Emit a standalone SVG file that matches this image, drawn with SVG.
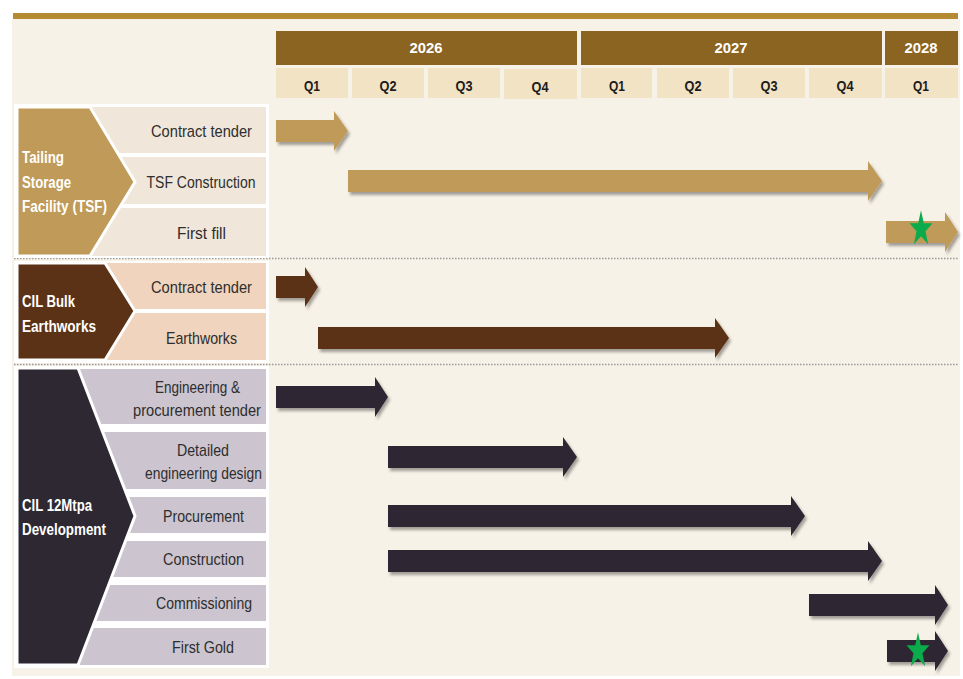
<svg xmlns="http://www.w3.org/2000/svg" width="963" height="679" viewBox="0 0 963 679">
<style>
.lbl{font-family:"Liberation Sans Narrow","Liberation Sans",Arial,sans-serif;font-size:17px;fill:#2e2e2e;text-anchor:middle}
.grp{font-family:"Liberation Sans Narrow","Liberation Sans",Arial,sans-serif;font-size:16px;font-weight:bold;fill:#ffffff}
.yr{font-family:"Liberation Sans Narrow","Liberation Sans",Arial,sans-serif;font-size:15px;font-weight:bold;fill:#ffffff;text-anchor:middle}
.q{font-family:"Liberation Sans Narrow","Liberation Sans",Arial,sans-serif;font-size:15px;font-weight:bold;fill:#1c1c1c;text-anchor:middle}
.yc{fill:#8b6421}
.qc{fill:#f3e3c5}
.dot{stroke:#9a9a9a;stroke-width:1.5;stroke-dasharray:1.5 1.5;fill:none}
.tsf{fill:#bf9a58}
.tsfr{fill:#f0e7da}
.blk{fill:#5b3216}
.blkr{fill:#f0d4bd}
.dev{fill:#2d2832}
.devr{fill:#ccc5cf}
.star{fill:#0aab4a}
</style>
<defs>
<filter id="sh" x="-5%" y="-30%" width="110%" height="170%">
<feDropShadow dx="2" dy="3" stdDeviation="1.5" flood-color="#000" flood-opacity="0.35"/>
</filter>
<path id="star" d="M0,-18.8 L2.8,-5.81 L11.5,-5.81 L4.5,2.22 L7.1,15.21 L0,7.18 L-7.1,15.21 L-4.5,2.22 L-11.5,-5.81 L-2.8,-5.81 Z"/>
</defs>
<rect x="0" y="0" width="963" height="679" fill="#ffffff"/>
<rect x="12" y="19" width="948" height="657" fill="#f7f2e7"/>
<rect x="13" y="13" width="945" height="6" fill="#b48a32"/>

<g id="header">
<g id="y2026"><rect class="yc" x="276" y="31" width="301" height="34"/><text class="yr" x="426" y="53" textLength="33" lengthAdjust="spacingAndGlyphs">2026</text></g>
<g id="y2027"><rect class="yc" x="581" y="31" width="301" height="34"/><text class="yr" x="731" y="53" textLength="33" lengthAdjust="spacingAndGlyphs">2027</text></g>
<g id="y2028"><rect class="yc" x="885" y="31" width="73" height="34"/><text class="yr" x="921" y="53" textLength="33" lengthAdjust="spacingAndGlyphs">2028</text></g>
<g id="q1-2026"><rect class="qc" x="276" y="68" width="72" height="30"/><text class="q" x="312" y="91" textLength="16" lengthAdjust="spacingAndGlyphs">Q1</text></g>
<g id="q2-2026"><rect class="qc" x="352" y="68" width="72" height="30"/><text class="q" x="388" y="91" textLength="17" lengthAdjust="spacingAndGlyphs">Q2</text></g>
<g id="q3-2026"><rect class="qc" x="428" y="68" width="72" height="30"/><text class="q" x="464" y="91" textLength="17" lengthAdjust="spacingAndGlyphs">Q3</text></g>
<g id="q4-2026"><rect class="qc" x="504" y="69" width="73" height="30"/><text class="q" x="540" y="92" textLength="17" lengthAdjust="spacingAndGlyphs">Q4</text></g>
<g id="q1-2027"><rect class="qc" x="581" y="68" width="71" height="30"/><text class="q" x="617" y="91" textLength="16" lengthAdjust="spacingAndGlyphs">Q1</text></g>
<g id="q2-2027"><rect class="qc" x="657" y="68" width="72" height="30"/><text class="q" x="693" y="91" textLength="17" lengthAdjust="spacingAndGlyphs">Q2</text></g>
<g id="q3-2027"><rect class="qc" x="733" y="68" width="72" height="30"/><text class="q" x="769" y="91" textLength="17" lengthAdjust="spacingAndGlyphs">Q3</text></g>
<g id="q4-2027"><rect class="qc" x="809" y="68" width="73" height="30"/><text class="q" x="845" y="91" textLength="17" lengthAdjust="spacingAndGlyphs">Q4</text></g>
<g id="q1-2028"><rect class="qc" x="885" y="68" width="73" height="30"/><text class="q" x="921" y="91" textLength="16" lengthAdjust="spacingAndGlyphs">Q1</text></g>
</g>

<g id="separators">
<line class="dot" x1="14" y1="258.5" x2="958" y2="258.5"/>
<line class="dot" x1="14" y1="364.5" x2="958" y2="364.5"/>
</g>

<g id="tsf-group">
<rect x="14" y="104" width="255" height="154" fill="#ffffff"/>
<g id="tsf-contract-tender"><rect class="tsfr" x="17" y="107" width="249" height="46"/><text class="lbl" x="201.5" y="137" textLength="101" lengthAdjust="spacingAndGlyphs">Contract tender</text></g>
<g id="tsf-construction"><rect class="tsfr" x="17" y="157" width="249" height="47"/><text class="lbl" x="201" y="188" textLength="109" lengthAdjust="spacingAndGlyphs">TSF Construction</text></g>
<g id="tsf-first-fill"><rect class="tsfr" x="17" y="208" width="249" height="48"/><text class="lbl" x="201.5" y="239" textLength="49" lengthAdjust="spacingAndGlyphs">First fill</text></g>
<g id="tsf-head">
<polygon class="tsf" points="17,107 90,107 135,182 90,256 17,256" stroke="#ffffff" stroke-width="3"/>
<text class="grp" x="22" y="163" textLength="42" lengthAdjust="spacingAndGlyphs">Tailing</text>
<text class="grp" x="22" y="188" textLength="49" lengthAdjust="spacingAndGlyphs">Storage</text>
<text class="grp" x="22" y="212" textLength="85" lengthAdjust="spacingAndGlyphs">Facility (TSF)</text>
</g>
</g>

<g id="bulk-group">
<rect x="14" y="261" width="255" height="102" fill="#ffffff"/>
<g id="bulk-contract-tender"><rect class="blkr" x="17" y="263" width="249" height="46"/><text class="lbl" x="201.5" y="293" textLength="101" lengthAdjust="spacingAndGlyphs">Contract tender</text></g>
<g id="bulk-earthworks"><rect class="blkr" x="17" y="313" width="249" height="47"/><text class="lbl" x="201.5" y="344" textLength="71" lengthAdjust="spacingAndGlyphs">Earthworks</text></g>
<g id="bulk-head">
<polygon class="blk" points="17,263 105,263 135,311 105,360 17,360" stroke="#ffffff" stroke-width="3"/>
<text class="grp" x="22" y="307" textLength="53" lengthAdjust="spacingAndGlyphs">CIL Bulk</text>
<text class="grp" x="22" y="332" textLength="74" lengthAdjust="spacingAndGlyphs">Earthworks</text>
</g>
</g>

<g id="dev-group">
<rect x="14" y="366" width="255" height="302" fill="#ffffff"/>
<g id="dev-eng-tender"><rect class="devr" x="17" y="369" width="249" height="55"/><text class="lbl" x="197.5" y="393" textLength="85" lengthAdjust="spacingAndGlyphs">Engineering &amp;</text><text class="lbl" x="197" y="416" textLength="128" lengthAdjust="spacingAndGlyphs">procurement tender</text></g>
<g id="dev-detailed"><rect class="devr" x="17" y="432" width="249" height="57"/><text class="lbl" x="203" y="456" textLength="52" lengthAdjust="spacingAndGlyphs">Detailed</text><text class="lbl" x="203.5" y="479" textLength="117" lengthAdjust="spacingAndGlyphs">engineering design</text></g>
<g id="dev-procurement"><rect class="devr" x="17" y="497" width="249" height="36"/><text class="lbl" x="203.5" y="522" textLength="81" lengthAdjust="spacingAndGlyphs">Procurement</text></g>
<g id="dev-construction"><rect class="devr" x="17" y="541" width="249" height="36"/><text class="lbl" x="203.5" y="565" textLength="81" lengthAdjust="spacingAndGlyphs">Construction</text></g>
<g id="dev-commissioning"><rect class="devr" x="17" y="585" width="249" height="36"/><text class="lbl" x="204" y="609" textLength="96" lengthAdjust="spacingAndGlyphs">Commissioning</text></g>
<g id="dev-first-gold"><rect class="devr" x="17" y="628" width="249" height="37"/><text class="lbl" x="203" y="653" textLength="62" lengthAdjust="spacingAndGlyphs">First Gold</text></g>
<g id="dev-head">
<polygon class="dev" points="17,368 78,368 135,516 78,665 17,665" stroke="#ffffff" stroke-width="3"/>
<text class="grp" x="22" y="511" textLength="70" lengthAdjust="spacingAndGlyphs">CIL 12Mtpa</text>
<text class="grp" x="22" y="535" textLength="84" lengthAdjust="spacingAndGlyphs">Development</text>
</g>
</g>

<g id="connectors" filter="url(#sh)">
<path id="bar-tsf-tender" class="tsf" d="M276,120 H334 V111 L348,131 L334,151 V142 H276 Z"/>
<path id="bar-tsf-construction" class="tsf" d="M348,170 H868 V161 L882,181 L868,201 V192 H348 Z"/>
<path id="bar-tsf-fill" class="tsf" d="M886,221 H945 V212 L958,232 L945,252 V243 H886 Z"/>
<path id="bar-bulk-tender" class="blk" d="M276,276 H305 V267 L318,287 L305,307 V298 H276 Z"/>
<path id="bar-bulk-earthworks" class="blk" d="M318,327 H715 V318 L729,338 L715,358 V349 H318 Z"/>
<path id="bar-dev-tender" class="dev" d="M276,386 H375 V377 L388,397 L375,417 V408 H276 Z"/>
<path id="bar-dev-detailed" class="dev" d="M388,446 H563 V437 L577,457 L563,477 V468 H388 Z"/>
<path id="bar-dev-procurement" class="dev" d="M388,505 H791 V496 L805,516 L791,536 V527 H388 Z"/>
<path id="bar-dev-construction" class="dev" d="M388,550 H868 V541 L882,561 L868,581 V572 H388 Z"/>
<path id="bar-dev-commissioning" class="dev" d="M809,594 H935 V585 L948,605 L935,625 V616 H809 Z"/>
<path id="bar-dev-gold" class="dev" d="M887,640 H935 V631 L948,651 L935,671 V662 H887 Z"/>
</g>

<g id="milestones">
<use href="#star" class="star" x="921" y="229"/>
<use href="#star" class="star" x="918" y="651"/>
</g>
</svg>
